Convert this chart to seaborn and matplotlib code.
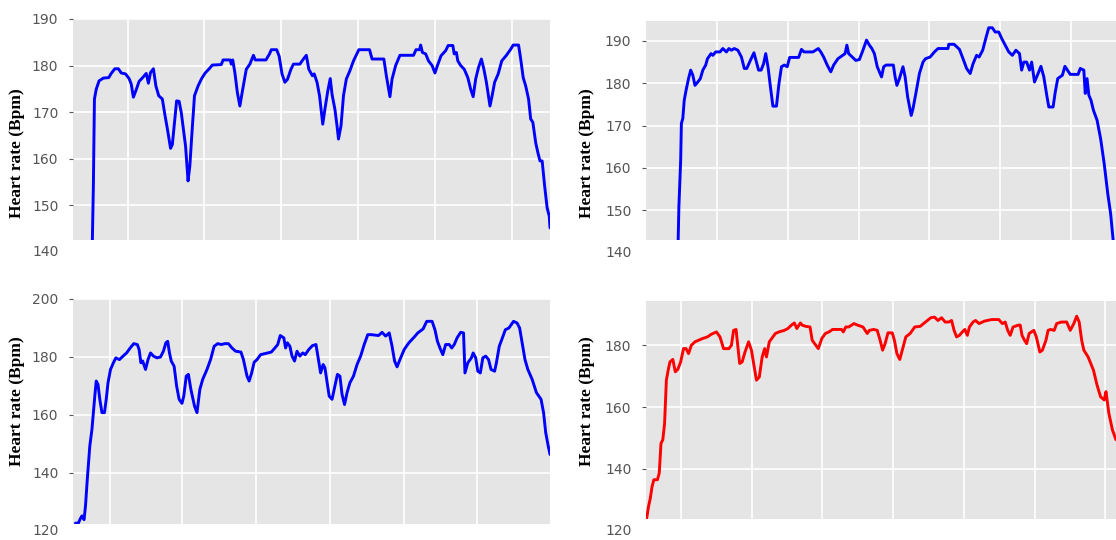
import matplotlib
matplotlib.use("Agg")
import matplotlib.pyplot as plt
import seaborn as sns

# Heart-rate recordings of four sessions (time index, beats per minute)
t_a = [255, 262, 265, 270, 278, 290, 305, 312, 322, 332,
       340, 352, 362, 368, 374, 382, 390, 400, 410, 416,
       422, 430, 437, 445, 455, 462, 470, 478, 483, 488,
       495, 502, 508, 515, 520, 527, 532, 538, 545, 555,
       565, 575, 585, 595, 620, 625, 645, 648, 652, 658,
       665, 672, 680, 690, 700, 710, 715, 745, 755, 760,
       775, 782, 790, 798, 805, 815, 822, 840, 848, 858,
       865, 875, 880, 888, 895, 904, 910, 918, 925, 930,
       938, 944, 948, 955, 962, 970, 980, 990, 1005, 1035,
       1042, 1075, 1082, 1092, 1098, 1108, 1120, 1158, 1165, 1175,
       1178, 1183, 1192, 1200, 1210, 1218, 1225, 1235, 1248, 1255,
       1268, 1272, 1278, 1282, 1290, 1300, 1310, 1318, 1325, 1332,
       1340, 1348, 1355, 1362, 1372, 1378, 1385, 1395, 1405, 1418,
       1430, 1437, 1452, 1458, 1465, 1472, 1480, 1486, 1492, 1500,
       1506, 1512, 1518, 1525, 1532, 1538, 1540]
hr_a = [125, 154.1, 172.8, 174.9, 176.7, 177.3, 177.4, 178.3, 179.3, 179.3,
        178.4, 178.2, 177.2, 176, 173.2, 174.8, 176.6, 177.4, 178.3, 176.2,
        178.5, 179.3, 175.6, 173.5, 172.8, 169.5, 166, 162.2, 163, 167,
        172.4, 172.3, 169.9, 165.6, 162.7, 155.2, 158.4, 165.6, 173.5, 175.6,
        177.2, 178.4, 179.2, 180.1, 180.2, 181.2, 181.2, 180.3, 181.2, 178.5,
        174.2, 171.3, 174.9, 179.2, 180.3, 182.2, 181.2, 181.2, 182.5, 183.4,
        183.4, 182, 178.2, 176.4, 177, 179.2, 180.3, 180.3, 181.2, 182.2,
        179.2, 177.8, 178.2, 176.4, 173.5, 167.4, 170.6, 174.5, 177.2, 173.8,
        170.6, 167, 164.2, 167, 173.5, 177.1, 178.9, 181, 183.4, 183.4,
        181.4, 181.4, 177.8, 173.3, 177.1, 180, 182.2, 182.2, 183.4, 183.4,
        184.4, 182.8, 182.5, 181, 180, 178.4, 180, 182.1, 183.2, 184.3,
        184.3, 182.5, 182.8, 181, 180, 179.2, 177.4, 174.9, 173.3, 177.1,
        179.6, 181.4, 179.2, 176.4, 171.3, 173.5, 176.4, 178.2, 181, 182.2,
        183.5, 184.4, 184.4, 181.4, 177.4, 175.6, 172.8, 168.5, 167.8, 163.4,
        161.3, 159.5, 159.5, 154.1, 149.4, 147.6, 145.1]

t_b = [340, 343, 345, 350, 352, 356, 360, 365, 372, 378,
       384, 390, 398, 405, 412, 420, 425, 435, 440, 448,
       460, 468, 478, 485, 492, 500, 510, 520, 528, 535,
       545, 555, 562, 568, 575, 582, 588, 595, 600, 608,
       618, 625, 632, 640, 648, 655, 680, 688, 695, 720,
       735, 742, 750, 760, 770, 778, 790, 810, 815, 820,
       830, 840, 850, 860, 870, 878, 885, 892, 900, 912,
       918, 925, 945, 950, 955, 962, 972, 978, 985, 995,
       1000, 1008, 1018, 1028, 1035, 1048, 1060, 1070, 1098, 1100,
       1115, 1130, 1140, 1150, 1160, 1168, 1178, 1185, 1195, 1205,
       1212, 1222, 1230, 1240, 1248, 1258, 1268, 1278, 1288, 1298,
       1304, 1310, 1318, 1326, 1332, 1340, 1350, 1358, 1366, 1375,
       1380, 1392, 1398, 1405, 1418, 1425, 1432, 1440, 1462, 1468,
       1478, 1482, 1487, 1492, 1498, 1505, 1515, 1525, 1535, 1545,
       1553, 1560, 1566]
hr_b = [125, 143, 150.8, 161.8, 170.5, 171.7, 176, 178.3, 181.1, 183.1,
        181.9, 179.5, 180.3, 181.1, 183.1, 184.3, 185.8, 187, 186.6, 187.4,
        187.4, 188.2, 187.4, 188.2, 187.8, 188.2, 187.8, 186.2, 183.5, 183.5,
        185.4, 187.2, 185, 183.1, 183.1, 184.6, 187, 183.5, 179.9, 174.6,
        174.6, 179.9, 183.9, 184.3, 183.9, 186.1, 186.1, 188, 187.4, 187.4,
        188.2, 187.4, 186.2, 184.3, 182.7, 184.3, 185.8, 187, 189, 187,
        186.2, 185.4, 185.6, 187.8, 190.2, 189, 188.2, 187, 183.9, 181.5,
        183.9, 184.3, 184.3, 181.5, 179.5, 181.1, 183.9, 181.5, 176.8, 172.4,
        174, 177.6, 182.3, 185, 185.8, 186.2, 187.4, 188.2, 188.2, 189.2,
        189.2, 188, 185.8, 183.5, 182.3, 184.6, 186.6, 186.2, 187.8, 191,
        193.1, 193.1, 192.1, 192.1, 190.6, 189, 187.4, 186.6, 187.8, 187,
        183.1, 185, 185, 183.1, 185, 180.3, 182.3, 184, 181.5, 176.8,
        174.4, 174.4, 177.9, 181.1, 181.9, 184, 183.1, 182.1, 182.1, 183.5,
        183.1, 177.6, 181.1, 177.2, 176, 173.6, 171.3, 166.9, 161, 153.9,
        149.2, 143, 130]

t_c = [212, 220, 225, 230, 236, 240, 245, 252, 258, 262,
       266, 270, 275, 280, 286, 293, 298, 303, 310, 318,
       325, 335, 345, 355, 365, 375, 385, 390, 395, 400,
       408, 415, 422, 430, 440, 450, 458, 465, 470, 475,
       480, 488, 495, 502, 510, 515, 522, 528, 535, 545,
       552, 560, 568, 580, 590, 600, 610, 620, 630, 640,
       650, 660, 675, 682, 692, 698, 705, 712, 720, 730,
       760, 770, 778, 785, 795, 800, 805, 812, 818, 825,
       832, 840, 848, 855, 865, 875, 885, 892, 898, 905,
       910, 915, 922, 930, 938, 945, 952, 958, 965, 972,
       980, 990, 1000, 1010, 1020, 1030, 1040, 1060, 1070, 1080,
       1090, 1098, 1105, 1112, 1120, 1132, 1145, 1158, 1170, 1185,
       1195, 1210, 1218, 1225, 1232, 1240, 1248, 1258, 1265, 1272,
       1280, 1290, 1298, 1302, 1310, 1320, 1325, 1332, 1338, 1345,
       1352, 1360, 1368, 1375, 1385, 1390, 1398, 1405, 1415, 1425,
       1438, 1448, 1455, 1462, 1470, 1478, 1490, 1502, 1515, 1522,
       1528, 1535, 1540]
hr_c = [122.7, 122.7, 124.1, 125.2, 123.9, 128.7, 137.8, 149.3, 155, 160.8,
        166.5, 171.7, 170.5, 165.4, 160.8, 160.8, 165.4, 171.1, 175.7, 178,
        179.7, 179.1, 180.3, 181.4, 183.1, 184.6, 184.3, 182.6, 178, 178.6,
        175.7, 179.1, 181.4, 180.3, 179.7, 180, 182, 184.9, 185.4, 181.4,
        178.6, 176.8, 170, 165.4, 164, 166.5, 173.4, 174, 168.8, 163.1,
        160.8, 168.8, 172.3, 175.7, 179.1, 183.7, 184.6, 184.3, 184.6, 184.6,
        183.1, 182, 181.7, 179.1, 173.4, 171.7, 174.5, 178.2, 179.1, 180.8,
        181.7, 183.1, 184.3, 187.4, 186.6, 183.1, 184.9, 183.7, 180.3, 178.6,
        182, 180.3, 181.4, 180.8, 182.6, 183.9, 184.3, 179.1, 174.5, 177.4,
        176.3, 172.3, 166.5, 165.4, 170, 174, 173.4, 167.1, 163.6, 167.7,
        171.1, 173.4, 177.4, 180.3, 184.3, 187.7, 187.7, 187.4, 188.5, 187.2,
        188.3, 183.7, 178.6, 176.6, 179.1, 182.6, 184.9, 186.6, 188.3, 189.7,
        192.3, 192.3, 189.4, 185.4, 183.1, 180.8, 184.3, 184.3, 183.1, 184.3,
        186.6, 188.5, 188.3, 174.5, 178, 179.7, 181.4, 179.7, 175.1, 174.5,
        179.7, 180.3, 179.1, 175.7, 175.1, 178, 183.7, 186, 189.4, 190,
        192.3, 191.7, 190, 184.9, 179.1, 175.7, 172.3, 167.7, 165.4, 160.8,
        153.9, 149.3, 146.4]

t_d = [255, 260, 265, 270, 275, 285, 290, 295, 300, 305,
       310, 315, 320, 328, 335, 342, 350, 358, 365, 372,
       380, 390, 400, 412, 425, 435, 450, 460, 470, 485,
       492, 498, 505, 510, 515, 522, 530, 540, 548, 555,
       562, 570, 578, 585, 590, 598, 605, 615, 625, 640,
       650, 660, 668, 675, 685, 690, 700, 712, 718, 725,
       735, 745, 755, 765, 775, 800, 805, 812, 820, 835,
       845, 860, 872, 878, 890, 900, 908, 915, 922, 930,
       942, 948, 955, 963, 970, 980, 992, 1005, 1020, 1035,
       1050, 1060, 1070, 1080, 1090, 1100, 1108, 1115, 1122, 1130,
       1138, 1145, 1152, 1158, 1168, 1175, 1185, 1200, 1220, 1240,
       1250, 1258, 1265, 1272, 1280, 1295, 1300, 1305, 1312, 1318,
       1325, 1338, 1345, 1355, 1362, 1372, 1378, 1385, 1395, 1402,
       1415, 1430, 1440, 1450, 1458, 1465, 1472, 1478, 1490, 1505,
       1515, 1525, 1535, 1540, 1548, 1558, 1568]
hr_d = [124.1, 127.8, 130.5, 134.3, 136.5, 136.5, 138.6, 148.3, 149.4, 154.7,
        168.7, 171.9, 174.6, 175.4, 171.4, 172.2, 174.6, 178.9, 178.9, 177.3,
        180, 181.1, 181.6, 182.2, 182.7, 183.5, 184.3, 182.7, 178.9, 178.9,
        180, 184.8, 185.1, 179.5, 174.1, 174.6, 177.8, 181.1, 178.4, 173.5,
        168.7, 169.7, 176.2, 178.9, 176.2, 181.1, 182.2, 183.8, 184.3, 184.8,
        185.4, 186.5, 187.2, 185.4, 187.2, 186.5, 186.1, 185.9, 181.6, 180.5,
        178.9, 182.2, 183.8, 184.3, 185.1, 185.1, 184.3, 185.9, 185.9, 187,
        186.5, 185.9, 183.8, 184.8, 185.1, 184.8, 181.6, 178.4, 180.5, 184,
        184, 181.6, 177.3, 175.4, 178.4, 182.7, 183.8, 185.9, 186.1, 187.5,
        188.9, 189.1, 188, 188.9, 187.5, 187.5, 188, 184.8, 182.7, 183.2,
        184.3, 185.1, 183.2, 185.9, 187.5, 188, 187, 187.8, 188.3, 188.3,
        187, 187.5, 184.8, 183.2, 185.9, 186.5, 186.5, 183.2, 181.6, 180.5,
        183.8, 184.8, 182.7, 177.8, 178.4, 181.6, 184.8, 185.1, 184.8, 187,
        187.5, 187.5, 184.8, 187, 189.4, 187.5, 181.6, 178.4, 176.2, 171.9,
        167.1, 163.3, 162.3, 165, 158, 152.6, 149.4]

plt.style.use("ggplot")
sns.set_style("darkgrid", {"axes.facecolor": "#E5E5E5", "grid.color": "white"})

W, H = 1116, 540
fig = plt.figure(figsize=(W / 100, H / 100), dpi=100)
fig.patch.set_facecolor("white")


def px_rect(x0, y0, x1, y1):
    return [x0 / W, (H - y1) / H, (x1 - x0) / W, (y1 - y0) / H]


panels = [
    dict(t=t_a, hr=hr_a, color="#0000FF", rect=px_rect(73, 19, 550, 240),
         xlim=(205, 1540), ylim=(142.5, 190), yticks=[150, 160, 170, 180, 190],
         grid_x=[358, 573, 788, 1003, 1218, 1433], low_label=140,
         label_pos=(-0.101, 0.394)),
    dict(t=t_b, hr=hr_b, color="#0000FF", rect=px_rect(646, 21, 1116, 240),
         xlim=(253, 1568), ylim=(143, 194.7), yticks=[150, 160, 170, 180, 190],
         grid_x=[453, 651, 848, 1045, 1243, 1442], low_label=140,
         label_pos=(-0.108, 0.397)),
    dict(t=t_c, hr=hr_c, color="#0000FF", rect=px_rect(73, 299, 550, 524),
         xlim=(205, 1540), ylim=(122.4, 200), yticks=[140, 160, 180, 200],
         grid_x=[308, 510, 718, 923, 1130, 1335], low_label=120,
         label_pos=(-0.101, 0.547)),
    dict(t=t_d, hr=hr_d, color="#FF0000", rect=px_rect(646, 301, 1116, 519),
         xlim=(253, 1568), ylim=(123.8, 194.3), yticks=[140, 160, 180],
         grid_x=[350, 550, 746, 945, 1143, 1340, 1538], low_label=120,
         label_pos=(-0.108, 0.541)),
]

for p in panels:
    ax = fig.add_axes(p["rect"])
    ax.set_facecolor("#E5E5E5")
    sns.lineplot(x=p["t"], y=p["hr"], ax=ax, color=p["color"], linewidth=2.1,
                 estimator=None, sort=False)
    ax.set_xlim(*p["xlim"])
    ax.set_ylim(*p["ylim"])
    ax.set_xticks(p["grid_x"])
    ax.set_xticklabels([])
    ax.set_yticks(p["yticks"])
    ax.tick_params(axis="x", length=0)
    ax.tick_params(axis="y", labelsize=10, colors="#555555", length=3,
                   width=0.8, pad=7.5, direction="out", left=True)
    ax.grid(True, color="white", linewidth=1.2)
    for s in ax.spines.values():
        s.set_visible(False)
    ax.set_xlabel("")
    ax.set_ylabel("Heart rate (Bpm)", fontfamily="Liberation Serif",
                  fontweight="bold", fontsize=12.5, color="black")
    ax.yaxis.set_label_coords(*p["label_pos"])
    # lowest value label sits just below the visible panel
    ax.annotate(str(p["low_label"]), xy=(0, p["low_label"]),
                xycoords=ax.get_yaxis_transform(), xytext=(-10.5, 0),
                textcoords="offset points", ha="right", va="center",
                fontsize=10, color="#555555", annotation_clip=False)

fig.savefig("out.png", dpi=100)
